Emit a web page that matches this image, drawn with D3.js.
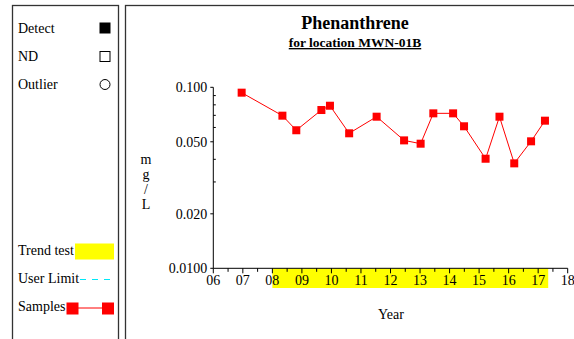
<!DOCTYPE html>
<html>
<head>
<meta charset="utf-8">
<script src="https://cdn.jsdelivr.net/npm/d3@7"></script>
<style>
  html, body { margin: 0; padding: 0; background: #fff; }
  svg { display: block; font-family: "Liberation Serif", "DejaVu Serif", serif; }
</style>
</head>
<body>
<svg id="chart" width="574" height="339"></svg>
<script>
// Phenanthrene concentrations at MWN-01B (mg/L), sample dates as decimal years since 2000
const sampleYears  = [6.96, 8.34, 8.81, 9.66, 9.95, 10.60, 11.53, 12.46, 13.02, 13.45, 14.12, 14.49, 15.22, 15.69, 16.19, 16.76, 17.23];
const sampleValues = [0.0934, 0.0697, 0.0579, 0.0749, 0.0791, 0.0557, 0.0688, 0.0509, 0.0488, 0.0718, 0.0718, 0.0609, 0.0403, 0.0688, 0.0380, 0.0503, 0.0654];

// Trend test window (years)
const trendStart = 8.0;
const trendEnd = 17.34;

// Axis ticks
const yearTicks = [6, 7, 8, 9, 10, 11, 12, 13, 14, 15, 16, 17, 18];
const yearTickLabels = ["06", "07", "08", "09", "10", "11", "12", "13", "14", "15", "16", "17", "18"];
const yMajorTicks = [0.1, 0.05, 0.02, 0.01];
const yMajorLabels = ["0.100", "0.050", "0.020", "0.0100"];
const yMinorTicks = [0.03, 0.04, 0.06, 0.07, 0.08, 0.09];

const legendItems = ["Detect", "ND", "Outlier"];
const legendLower = ["Trend test", "User Limit", "Samples"];

const svg = d3.select("#chart");

const x = d3.scaleLinear().domain([6, 18]).range([213.3, 567.7]);
const y = d3.scaleLog().domain([0.01, 0.1]).range([268.3, 87.3]);

// Panel frames
svg.append("rect").attr("x", 12.5).attr("y", 5.5).attr("width", 106).attr("height", 360)
  .attr("fill", "none").attr("stroke", "#333").attr("stroke-width", 1.3);
svg.append("rect").attr("x", 125.5).attr("y", 5.5).attr("width", 480).attr("height", 360)
  .attr("fill", "none").attr("stroke", "#333").attr("stroke-width", 1.3);

// Title
svg.append("text").attr("x", 355).attr("y", 29).attr("text-anchor", "middle")
  .attr("font-size", 18).attr("font-weight", "bold").text("Phenanthrene");
svg.append("text").attr("x", 355).attr("y", 47).attr("text-anchor", "middle")
  .attr("font-size", 13.5).attr("font-weight", "bold").attr("text-decoration", "underline")
  .text("for location MWN-01B");

// Trend test band below the x axis
svg.append("rect")
  .attr("x", x(trendStart)).attr("y", 268.5)
  .attr("width", x(trendEnd) - x(trendStart)).attr("height", 19.5)
  .attr("fill", "#ffff00");

// X axis: major ticks every year, minor every half year
const gx = svg.append("g").attr("transform", "translate(0,268.3)");
gx.append("line").attr("x1", x(6)).attr("x2", x(18)).attr("stroke", "#000");
const halfYears = d3.range(6.5, 18, 1);
gx.selectAll("line.minor").data(halfYears).join("line").attr("class", "minor")
  .attr("x1", d => x(d)).attr("x2", d => x(d)).attr("y1", 0).attr("y2", 3.5).attr("stroke", "#000");
gx.selectAll("line.major").data(yearTicks).join("line").attr("class", "major")
  .attr("x1", d => x(d)).attr("x2", d => x(d)).attr("y1", 0).attr("y2", 5).attr("stroke", "#000");
gx.selectAll("text").data(yearTicks).join("text")
  .attr("x", d => x(d)).attr("y", 16.5).attr("text-anchor", "middle")
  .attr("font-size", 14).text((d, i) => yearTickLabels[i]);

svg.append("text").attr("x", 391).attr("y", 319).attr("text-anchor", "middle")
  .attr("font-size", 14).text("Year");

// Y axis (log scale)
const gy = svg.append("g").attr("transform", "translate(213.3,0)");
gy.append("line").attr("y1", y(0.1)).attr("y2", y(0.01)).attr("stroke", "#000");
gy.selectAll("line.major").data(yMajorTicks).join("line").attr("class", "major")
  .attr("x1", -3).attr("x2", 0).attr("y1", d => y(d)).attr("y2", d => y(d)).attr("stroke", "#000");
gy.selectAll("line.minor").data(yMinorTicks).join("line").attr("class", "minor")
  .attr("x1", 0).attr("x2", 2.5).attr("y1", d => y(d)).attr("y2", d => y(d)).attr("stroke", "#000");
gy.selectAll("text").data(yMajorTicks).join("text")
  .attr("x", -6).attr("y", d => y(d) + 4.8).attr("text-anchor", "end")
  .attr("font-size", 14).text((d, i) => yMajorLabels[i]);

// Stacked unit label
const unitChars = ["m", "g", "/", "L"];
svg.selectAll("text.unit").data(unitChars).join("text").attr("class", "unit")
  .attr("x", 146).attr("y", (d, i) => 164 + i * 15).attr("text-anchor", "middle")
  .attr("font-size", 14).text(d => d);

// Sample series
const pts = sampleYears.map((t, i) => [t, sampleValues[i]]);
svg.append("path").datum(pts)
  .attr("d", d3.line().x(d => x(d[0])).y(d => y(d[1])))
  .attr("fill", "none").attr("stroke", "#ff0000").attr("stroke-width", 1);
svg.selectAll("rect.pt").data(pts).join("rect").attr("class", "pt")
  .attr("x", d => x(d[0]) - 4).attr("y", d => y(d[1]) - 4)
  .attr("width", 8).attr("height", 8).attr("fill", "#ff0000");

// Legend: symbol types
const legText = svg.append("g").attr("font-size", 14);
legText.selectAll("text.top").data(legendItems).join("text").attr("class", "top")
  .attr("x", 18).attr("y", (d, i) => 33 + i * 28).text(d => d);
svg.append("rect").attr("x", 99.5).attr("y", 22.5).attr("width", 11).attr("height", 11).attr("fill", "#000");
svg.append("rect").attr("x", 100).attr("y", 51.5).attr("width", 10).attr("height", 10)
  .attr("fill", "none").attr("stroke", "#000").attr("stroke-width", 1);
svg.append("circle").attr("cx", 105).attr("cy", 84.5).attr("r", 5)
  .attr("fill", "none").attr("stroke", "#000").attr("stroke-width", 1);

// Legend: series
legText.selectAll("text.bot").data(legendLower).join("text").attr("class", "bot")
  .attr("x", 18).attr("y", (d, i) => 255 + i * 28).text(d => d);
svg.append("rect").attr("x", 75).attr("y", 243.5).attr("width", 39).attr("height", 16).attr("fill", "#ffff00");
svg.append("line").attr("x1", 80).attr("x2", 114).attr("y1", 279.5).attr("y2", 279.5)
  .attr("stroke", "#00e8f8").attr("stroke-width", 1.2).attr("stroke-dasharray", "6,6");
svg.append("line").attr("x1", 72).attr("x2", 108).attr("y1", 308).attr("y2", 308)
  .attr("stroke", "#ff0000").attr("stroke-width", 1);
svg.append("rect").attr("x", 66.5).attr("y", 302.5).attr("width", 12).attr("height", 12).attr("fill", "#ff0000");
svg.append("rect").attr("x", 102).attr("y", 302.5).attr("width", 12).attr("height", 12).attr("fill", "#ff0000");
</script>
</body>
</html>
